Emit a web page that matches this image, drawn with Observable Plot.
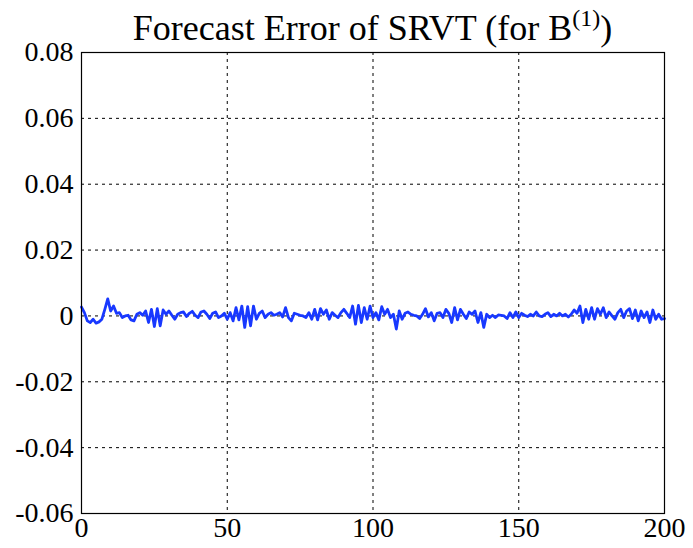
<!DOCTYPE html>
<html>
<head>
<meta charset="utf-8">
<script src="https://cdn.jsdelivr.net/npm/d3@7"></script>
<script src="https://cdn.jsdelivr.net/npm/@observablehq/plot@0.6"></script>
<style>
  html, body { margin: 0; padding: 0; background: #fff; }
  #wrap { position: relative; width: 693px; height: 548px; }
  #title { position: absolute; left: 0; width: 745px; top: 7px; text-align: center;
           font-family: "Liberation Serif", "Times New Roman", serif; font-size: 36px; color: #000; white-space: nowrap; }
  #title sup { font-size: 24px; vertical-align: 0; position: relative; top: -14px; }
  svg text { font-family: "Liberation Serif", "Times New Roman", serif !important; }
</style>
</head>
<body>
<div id="wrap"><div id="title">Forecast Error of SRVT (for B<sup>(1)</sup>)</div></div>
<script>
const errorValues = [
  0.0027, 0.0010, -0.0015, -0.0020, -0.0010, -0.0022, -0.0018, -0.0010, 0.0020, 0.0052,
  0.0015, 0.0030, 0.0008, 0.0010, -0.0005, 0.0000, 0.0002, -0.0012, -0.0015, 0.0005,
  0.0010, 0.0002, 0.0015, -0.0020, 0.0020, -0.0032, 0.0022, -0.0030, 0.0018, 0.0005,
  0.0015, 0.0002, -0.0010, 0.0005, 0.0010, 0.0012, -0.0002, 0.0008, 0.0014, 0.0002,
  -0.0005, 0.0012, 0.0015, 0.0005, -0.0008, 0.0008, 0.0012, -0.0005, 0.0000, 0.0008,
  -0.0010, 0.0010, -0.0015, 0.0025, -0.0012, 0.0030, -0.0035, 0.0028, -0.0030, 0.0030,
  -0.0010, 0.0008, 0.0015, -0.0005, 0.0005, 0.0010, 0.0002, 0.0005, 0.0010, -0.0003,
  0.0025, -0.0005, -0.0015, 0.0008, 0.0005, 0.0002, 0.0000, -0.0005, 0.0010, -0.0010,
  0.0020, -0.0012, 0.0022, 0.0005, 0.0018, -0.0010, 0.0010, 0.0002, -0.0005, 0.0010,
  0.0020, 0.0008, -0.0005, 0.0030, -0.0025, 0.0032, -0.0020, 0.0025, -0.0010, 0.0030,
  -0.0005, 0.0010, -0.0012, 0.0028, 0.0005, 0.0020, -0.0005, 0.0005, -0.0040, 0.0015,
  -0.0010, 0.0008, 0.0012, 0.0005, 0.0002, 0.0000, -0.0008, 0.0005, 0.0022, -0.0003,
  0.0010, -0.0015, 0.0008, 0.0010, -0.0005, 0.0020, 0.0008, -0.0020, 0.0025, -0.0012,
  0.0020, 0.0005, -0.0008, 0.0012, 0.0005, 0.0015, -0.0020, 0.0010, -0.0035, 0.0005,
  -0.0005, 0.0002, -0.0005, 0.0003, 0.0002, 0.0000, -0.0008, 0.0010, -0.0005, 0.0012,
  -0.0005, 0.0008, 0.0002, -0.0002, 0.0005, 0.0000, 0.0012, 0.0000, -0.0002, 0.0005,
  0.0010, -0.0002, 0.0005, 0.0000, 0.0008, 0.0000, 0.0005, -0.0003, 0.0005, 0.0018,
  0.0008, 0.0030, -0.0020, 0.0020, -0.0010, 0.0025, -0.0010, 0.0022, 0.0005, 0.0025,
  -0.0005, 0.0012, 0.0000, -0.0010, 0.0010, 0.0020, -0.0005, 0.0015, 0.0022, -0.0008,
  0.0018, -0.0015, 0.0015, -0.0005, 0.0012, -0.0020, 0.0018, -0.0010, 0.0005, -0.0010,
  -0.0008
];
const xTicks = [0, 50, 100, 150, 200];
const yTicks = [-0.06, -0.04, -0.02, 0, 0.02, 0.04, 0.06, 0.08];
const yTickLabels = ["-0.06", "-0.04", "-0.02", "0", "0.02", "0.04", "0.06", "0.08"];

const data = errorValues.map((v, i) => ({x: i, y: v}));
const fontFamily = "Liberation Serif, Times New Roman, serif";

const chart = Plot.plot({
  width: 693,
  height: 548,
  marginTop: 52,
  marginLeft: 81,
  marginRight: 29,
  marginBottom: 35,
  style: {fontFamily, fontSize: "28px", color: "#000", background: "#fff"},
  x: {domain: [0, 200]},
  y: {domain: [-0.06, 0.08]},
  marks: [
    Plot.gridX(xTicks.slice(1, -1), {stroke: "#000", strokeOpacity: 1, strokeDasharray: "3,4", strokeWidth: 1}),
    Plot.gridY(yTicks.slice(1, -1), {stroke: "#000", strokeOpacity: 1, strokeDasharray: "3,4", strokeWidth: 1}),
    Plot.line(data, {x: "x", y: "y", stroke: "#1838ff", strokeWidth: 2.8}),
    Plot.frame({stroke: "#000", strokeWidth: 1.2}),
    Plot.axisX(xTicks, {tickSize: 0, tickPadding: 4, fontSize: 28, fontFamily, label: null}),
    Plot.axisY(yTicks, {tickSize: 0, tickPadding: 8, fontSize: 28, fontFamily, label: null,
      tickFormat: (d, i) => yTickLabels[i]})
  ]
});
document.getElementById("wrap").prepend(chart);
chart.style.position = "absolute";
chart.style.left = "0";
chart.style.top = "0";
</script>
</body>
</html>
